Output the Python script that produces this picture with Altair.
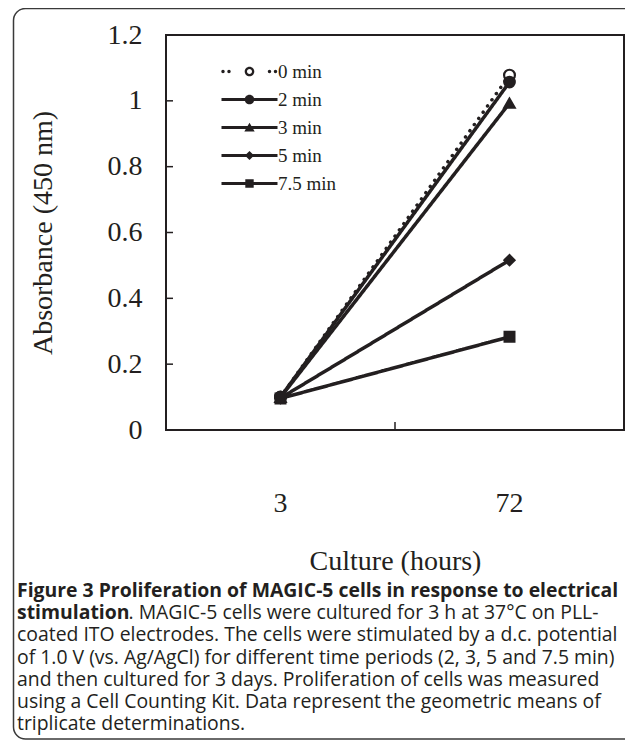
import altair as alt
import pandas as pd

# ---------------- data ----------------
hours = ["3", "72"]
series = ["0 min", "2 min", "3 min", "5 min", "7.5 min"]
at_3h = [0.100, 0.100, 0.099, 0.097, 0.096]
at_72h = [1.078, 1.057, 0.993, 0.516, 0.283]
y_ticks = [0, 0.2, 0.4, 0.6, 0.8, 1.0, 1.2]
x_boundary = ["72"]  # tick drawn at the start of this category band

caption_bold_1 = "Figure 3 Proliferation of MAGIC-5 cells in response to electrical"
caption_bold_2 = "stimulation"
caption_rest_2 = ". MAGIC-5 cells were cultured for 3 h at 37°C on PLL-"
caption_lines = [
    "coated ITO electrodes. The cells were stimulated by a d.c. potential",
    "of 1.0 V (vs. Ag/AgCl) for different time periods (2, 3, 5 and 7.5 min)",
    "and then cultured for 3 days. Proliferation of cells was measured",
    "using a Cell Counting Kit. Data represent the geometric means of",
    "triplicate determinations.",
]

# ---------------- styling ----------------
W, H = 458, 395
INK = "#231f20"
SERIF = "Liberation Serif"
SANS = "Open Sans"
CAP_SIZE = 19.4

rows = []
for s, a, b in zip(series, at_3h, at_72h):
    rows.append({"hour": hours[0], "series": s, "value": a})
    rows.append({"hour": hours[1], "series": s, "value": b})
df = pd.DataFrame(rows)


def circ(cx, cy, r, cw=True):
    f = 1 if cw else 0
    return (f"M{cx - r},{cy}A{r},{r} 0 1,{f} {cx + r},{cy}"
            f"A{r},{r} 0 1,{f} {cx - r},{cy}Z")


line_path = "M-28,-1.5H28V1.5H-28Z"
legend_paths = [
    circ(-26.5, 0, 1.7) + circ(-20.5, 0, 1.7) + circ(20, 0, 1.7) + circ(26, 0, 1.7)
    + circ(0, 0, 4.8) + circ(0, 0, 2.5, cw=False),
    line_path + circ(0, 0, 4.8),
    line_path + "M0,-4.8L5.2,4L-5.2,4Z",
    line_path + "M0,-4.6L4.6,0L0,4.6L-4.6,0Z",
    line_path + "M-4.2,-4.2H4.2V4.2H-4.2Z",
]

x_scale = alt.Scale(domain=hours, type="band", paddingInner=0, paddingOuter=0)
y_scale = alt.Scale(domain=[0, 1.2], nice=False)

x_axis = alt.Axis(
    title="Culture (hours)", labelAngle=0, domain=False, ticks=False, tickSize=0,
    labelFont=SERIF, labelFontSize=28, labelColor=INK, labelPadding=59,
    titleFont=SERIF, titleFontSize=28, titleFontWeight="normal", titleColor=INK,
    titlePadding=30,
)
y_axis = alt.Axis(
    title="Absorbance (450 nm)", values=y_ticks, format="~g", grid=False,
    domain=False, ticks=False, tickSize=0,
    labelFont=SERIF, labelFontSize=28, labelColor=INK, labelPadding=24,
    titleFont=SERIF, titleFontSize=28, titleFontWeight="normal", titleColor=INK,
    titlePadding=50,
)

x_enc = alt.X("hour:N", scale=x_scale, sort=hours, bandPosition=0.5, axis=x_axis)
y_enc = alt.Y("value:Q", scale=y_scale, axis=y_axis)

base = alt.Chart(df)

lines = base.mark_line(color=INK, strokeWidth=3.5, strokeCap="round").encode(
    x=x_enc, y=y_enc,
    detail="series:N",
    strokeDash=alt.StrokeDash(
        "series:N",
        scale=alt.Scale(domain=series, range=[[0.1, 7.5], [1, 0], [1, 0], [1, 0], [1, 0]]),
        legend=None,
    ),
)

points = base.mark_point(opacity=1, strokeWidth=2.2, stroke=INK).encode(
    x=x_enc, y=y_enc,
    shape=alt.Shape("series:N", scale=alt.Scale(
        domain=series, range=["circle", "circle", "triangle-up", "diamond", "square"]),
        legend=None),
    fill=alt.Fill("series:N", scale=alt.Scale(
        domain=series, range=["white", INK, INK, INK, INK]), legend=None),
    size=alt.Size("series:N", scale=alt.Scale(
        domain=series, range=[117, 96, 100, 110, 64]), legend=None),
    order=alt.Order("series:N"),
)

legend_layer = base.mark_point(filled=True, opacity=0, size=4, color=INK).encode(
    x=x_enc, y=y_enc,
    shape=alt.Shape(
        "series:N",
        scale=alt.Scale(domain=series, range=legend_paths),
        legend=alt.Legend(
            orient="none", legendX=74, legendY=27, title=None, padding=0,
            symbolSize=4, symbolStrokeWidth=0, symbolFillColor=INK,
            labelFont=SERIF, labelFontSize=19, labelColor=INK,
            labelOffset=19, rowPadding=8.0,
        ),
    ),
)

y_tick_rules = alt.Chart(pd.DataFrame({"value": y_ticks})).mark_rule(
    color=INK, strokeWidth=1.5).encode(
    y=y_enc,
    x=alt.value(0), x2=alt.value(7),
)

x_tick_rule = alt.Chart(pd.DataFrame({"hour": x_boundary})).mark_rule(
    color=INK, strokeWidth=1.5).encode(
    x=alt.X("hour:N", scale=x_scale, sort=hours, bandPosition=0, axis=x_axis),
    y=alt.value(H), y2=alt.value(H - 8),
)

one = pd.DataFrame({"k": [0]})
frame = alt.Chart(one).mark_rect(
    fillOpacity=0, stroke="#3a3a3a", strokeWidth=1.5, cornerRadius=12).encode(
    x=alt.value(-152.5), x2=alt.value(480), y=alt.value(-26.5), y2=alt.value(704),
)

cap_y0 = 556
cap_dy = 22.2
cap_x = -149


def cap_text(txt, x, y, bold=False):
    return alt.Chart(one).mark_text(
        align="left", baseline="middle", font=SANS, fontSize=CAP_SIZE,
        fontWeight="bold" if bold else "normal", color=INK,
    ).encode(x=alt.value(x), y=alt.value(y), text=alt.value(txt))


caption = [
    cap_text(caption_bold_1, cap_x, cap_y0, bold=True),
    cap_text(caption_bold_2, cap_x, cap_y0 + cap_dy, bold=True),
    cap_text(caption_rest_2, cap_x + 111.5, cap_y0 + cap_dy),
]
for i, t in enumerate(caption_lines):
    caption.append(cap_text(t, cap_x, cap_y0 + cap_dy * (i + 2)))

chart = alt.layer(
    lines, points, legend_layer, y_tick_rules, x_tick_rule, frame, *caption
).resolve_scale(shape="independent").properties(
    width=W, height=H,
    background="white",
    autosize=alt.AutoSizeParams(type="none"),
    padding={"left": 158, "top": 27, "right": 1, "bottom": 310},
).configure_view(stroke=INK, strokeWidth=2)

chart.save("out.html", embed_options={"renderer": "svg", "actions": False})
